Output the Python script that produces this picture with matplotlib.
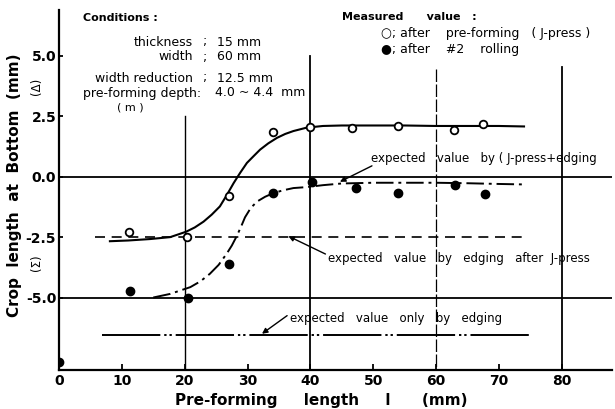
import numpy as np
import matplotlib
matplotlib.use("Agg")
import matplotlib.pyplot as plt

open_x = [11.2, 20.4, 27.1, 34.0, 40.0, 46.7, 53.9, 62.8, 67.5]
open_y = [-2.29, -2.5, -0.79, 1.83, 2.04, 2.0, 2.08, 1.92, 2.17]
filled_x = [0, 11.3, 20.6, 27.1, 34.0, 40.3, 47.3, 53.9, 63.0, 67.8]
filled_y = [-7.67, -4.71, -5.04, -3.63, -0.67, -0.2, -0.46, -0.67, -0.33, -0.71]

# hand-drawn curves (J-press / after rolling)
press_x = [8.1, 11, 14.5, 17.7, 20.2, 21.6, 23.0, 24.3, 25.6, 26.7, 27.8, 28.8,
           29.9, 31.0, 32.0, 33.3, 34.7, 36.0, 37.3, 39.4, 42, 45, 50, 55, 60,
           65, 70, 74]
press_y = [-2.67, -2.64, -2.58, -2.5, -2.28, -2.1, -1.86, -1.57, -1.23, -0.76,
           -0.26, 0.15, 0.57, 0.86, 1.12, 1.38, 1.61, 1.77, 1.89, 2.03, 2.1,
           2.12, 2.12, 2.12, 2.1, 2.1, 2.1, 2.08]
roll_x = [15, 17.7, 20.9, 22.5, 24.0, 25.4, 26.7, 27.5, 28.3, 29.0, 29.6, 30.5,
          31.5, 32.8, 34.1, 35.7, 37.3, 39.4, 42, 45, 50, 55, 60, 65, 70, 74]
roll_y = [-5.0, -4.85, -4.57, -4.33, -4.02, -3.65, -3.18, -2.85, -2.45, -2.05,
          -1.68, -1.3, -1.03, -0.83, -0.68, -0.56, -0.47, -0.43, -0.35, -0.28,
          -0.25, -0.25, -0.25, -0.27, -0.3, -0.32]

# expected value lines
edge_after_press = -2.5
edge_after_press_x = [5.7, 74]
edge_only = -6.54
edge_only_x = [6.8, 74.8]

xticks = [0, 10, 20, 30, 40, 50, 60, 70, 80]
yticks = [5.0, 2.5, 0.0, -2.5, -5.0]

W, H = 615, 409


def px(x, y):
    # pixel position -> figure fraction
    return x / W, 1 - y / H


fig = plt.figure(figsize=(6.15, 4.09), dpi=100)
ax = fig.add_axes([59 / W, 1 - 370 / H, (612 - 59) / W, (370 - 10) / H])
ax.set_xlim(0, 88)
ax.set_ylim(-8.0, 6.9)

for s in ["top", "right"]:
    ax.spines[s].set_visible(False)
for s in ["left", "bottom"]:
    ax.spines[s].set_linewidth(1.6)

ax.set_xticks(xticks)
ax.set_xticklabels([str(t) for t in xticks], fontsize=10, fontweight="bold")
ax.set_yticks(yticks)
ax.set_yticklabels(["%.1f" % t for t in yticks], fontsize=10, fontweight="bold")
ax.tick_params(axis="x", direction="in", length=4, width=1.3, pad=3)
ax.tick_params(axis="y", direction="in", length=3, width=1.3, pad=2)

# reference lines
ax.axhline(0, color="k", lw=1.3)
ax.axhline(-5, color="k", lw=1.3)
ax.plot([20, 20], [2.5, -8], color="k", lw=1.0)
ax.plot([40, 40], [5.0, -8], color="k", lw=1.3)
ax.plot([60, 60], [4.46, -8], color="k", lw=0.9, ls=(0, (10, 2)))
ax.plot([80, 80], [4.54, -8], color="k", lw=1.3)

# expected lines
ax.plot(edge_after_press_x, [edge_after_press] * 2, color="k", lw=1.2,
        ls=(0, (6, 4)))
ax.plot(edge_only_x, [edge_only] * 2, color="k", lw=1.4,
        ls=(0, (30, 2, 1.2, 1.5, 1.2, 2)))

# curves
ax.plot(press_x, press_y, color="k", lw=1.5)
ax.plot(roll_x, roll_y, color="k", lw=1.4, ls=(0, (9, 2.5, 1.5, 2.5)))

# measured points
ax.plot(open_x, open_y, "o", ms=5.5, mfc="white", mec="k", mew=1.3)
ax.plot(filled_x, filled_y, "o", ms=6, color="k")

arrow = dict(arrowstyle="-|>", color="k", lw=1.0, mutation_scale=8,
             shrinkA=0, shrinkB=0)
note = dict(fontsize=8.5, ha="left", va="center")
ax.annotate("", xy=(44.7, -0.21), xytext=(49.8, 0.45), arrowprops=arrow)
ax.text(49.6, 0.75, "expected   value   by ( J-press+edging", **note)
ax.annotate("", xy=(36.5, -2.46), xytext=(42.4, -3.2), arrowprops=arrow)
ax.text(42.8, -3.4, "expected   value   by   edging   after  J-press", **note)
ax.annotate("", xy=(32.3, -6.5), xytext=(36.3, -5.75), arrowprops=arrow)
ax.text(36.7, -5.85, "expected   value   only   by   edging", **note)

# axis labels
fig.text(*px(15, 185), "Crop  length  at  Bottom  (mm)", rotation=90,
         fontsize=11, fontweight="bold", ha="center", va="center")
fig.text(*px(37, 86), "(Δ)", rotation=90, fontsize=8.5,
         ha="center", va="center")
fig.text(*px(37, 263), "(Σ)", rotation=90, fontsize=8.5,
         ha="center", va="center")
fig.text(*px(321, 401), "Pre-forming     length     l      (mm)", fontsize=11,
         fontweight="bold", ha="center", va="center")

# conditions block
tk = dict(fontsize=9, va="center")
fig.text(*px(83, 18), "Conditions :", ha="left", fontweight="bold",
         fontsize=8, va="center")
rows = [("thickness", ";", "15 mm", 42), ("width", ";", "60 mm", 57),
        ("width reduction", ";", "12.5 mm", 78)]
for lab, sep, val, yy in rows:
    fig.text(*px(193, yy), lab, ha="right", **tk)
    fig.text(*px(205, yy), sep, ha="center", **tk)
    fig.text(*px(217, yy), val, ha="left", **tk)
fig.text(*px(201, 93), "pre-forming depth:", ha="right", **tk)
fig.text(*px(215, 93), "4.0 ~ 4.4  mm", ha="left", **tk)
fig.text(*px(130, 107), "( m )", ha="center", fontsize=8, va="center")

# measured value legend
fig.text(*px(342, 17), "Measured      value   :", ha="left", fontweight="bold",
         fontsize=8, va="center")
fig.text(*px(381, 33), "○; after    pre-forming   ( J-press )", ha="left", **tk)
fig.text(*px(381, 49), "●; after    #2    rolling", ha="left", **tk)

fig.savefig("out.png", dpi=100)
